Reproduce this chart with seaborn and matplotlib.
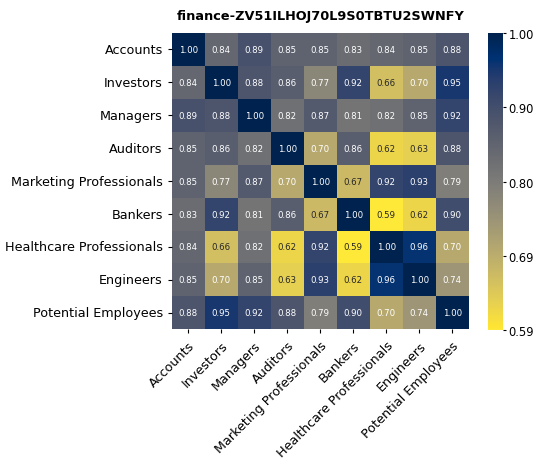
import numpy as np
import pandas as pd
import matplotlib
matplotlib.use("Agg")
import matplotlib.pyplot as plt
import seaborn as sns

labels = ["Accounts", "Investors", "Managers", "Auditors", "Marketing Professionals",
          "Bankers", "Healthcare Professionals", "Engineers", "Potential Employees"]

row_accounts = [1.00, 0.84, 0.89, 0.85, 0.85, 0.83, 0.84, 0.85, 0.88]
row_investors = [0.84, 1.00, 0.88, 0.86, 0.77, 0.92, 0.66, 0.70, 0.95]
row_managers = [0.89, 0.88, 1.00, 0.82, 0.87, 0.81, 0.82, 0.85, 0.92]
row_auditors = [0.85, 0.86, 0.82, 1.00, 0.70, 0.86, 0.62, 0.63, 0.88]
row_marketing = [0.85, 0.77, 0.87, 0.70, 1.00, 0.67, 0.92, 0.93, 0.79]
row_bankers = [0.83, 0.92, 0.81, 0.86, 0.67, 1.00, 0.59, 0.62, 0.90]
row_healthcare = [0.84, 0.66, 0.82, 0.62, 0.92, 0.59, 1.00, 0.96, 0.70]
row_engineers = [0.85, 0.70, 0.85, 0.63, 0.93, 0.62, 0.96, 1.00, 0.74]
row_potential = [0.88, 0.95, 0.92, 0.88, 0.79, 0.90, 0.70, 0.74, 1.00]

cbar_tick_labels = ["0.59", "0.69", "0.80", "0.90", "1.00"]

df = pd.DataFrame([row_accounts, row_investors, row_managers, row_auditors, row_marketing,
                   row_bankers, row_healthcare, row_engineers, row_potential],
                  index=labels, columns=labels)

fig = plt.figure(figsize=(5.37, 4.60), dpi=100)
ax = fig.add_axes([0.320, 0.282, 0.553, 0.644])
cax = fig.add_axes([0.909, 0.280, 0.028, 0.646])

vmin = df.values.min()
vmax = df.values.max()
sns.heatmap(df, ax=ax, cbar_ax=cax, cmap="cividis_r", annot=True, fmt=".2f",
            annot_kws={"fontsize": 6.2}, vmin=vmin, vmax=vmax, square=False)

ax.set_title("finance-ZV51ILHOJ70L9S0TBTU2SWNFY", fontsize=9.3, fontweight="bold", pad=10)
ax.set_xticklabels(labels, rotation=45, ha="right", rotation_mode="anchor", fontsize=9.2)
ax.set_yticklabels(labels, rotation=0, fontsize=9.2)
ax.tick_params(axis="both", length=3)

cax.set_yticks(np.linspace(vmin, vmax, 5))
cax.set_yticklabels(cbar_tick_labels, fontsize=8.3)
cax.tick_params(length=2.5, pad=1.5)
for s in cax.spines.values():
    s.set_visible(False)

fig.savefig("out.png", dpi=100)
